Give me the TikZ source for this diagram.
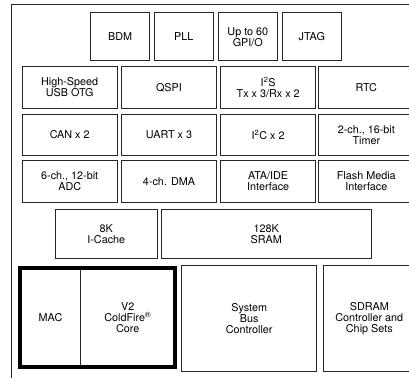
\documentclass[tikz,border=0pt]{standalone}
\usepackage{fontspec}
\setmainfont{TeX Gyre Heros}
\usetikzlibrary{positioning}

\begin{document}
\begin{tikzpicture}[x=1pt, y=-1pt, line join=miter,
  blk/.style={draw=boxcol, line width=0.9pt, rectangle, inner sep=0pt,
    align=center, font=\fontsize{10.8}{11}\selectfont},
  wide/.style={blk, minimum width=95.3pt}]
  \colorlet{boxcol}{black!85}
  \useasboundingbox (0,0) rectangle (409,377);
  \clip (0,0) rectangle (409,377);
  % chip outline, runs off the right and bottom
  \draw[boxcol, line width=0.9pt] (430,4) -- (11,4) -- (11,390);
  % debug / clock row
  \foreach \nm/\cx/\txt in {bdm/120.2/BDM, pll/183.8/PLL,
                            gpio/247.8/{Up to 60\\GPI/O}, jtag/311.8/JTAG}
    \node[blk, minimum width=59pt, minimum height=48pt] (\nm) at (\cx,36.7) {\txt};
  % peripherals
  \node[wide, minimum height=41.6pt] (usb) at (69.7,87.5) {High-Speed\\USB OTG};
  \node[wide, minimum height=41.6pt] (qspi) at (169,87.5) {QSPI};
  \node[wide, minimum height=41.6pt] (iis) at (268.2,87.5)
    {I\textsuperscript{2}S\\Tx x 3/Rx x 2};
  \node[wide, minimum height=41.6pt] (rtc) at (366.3,87.5) {RTC};
  \node[wide, minimum height=40.7pt] (can) at (69.7,134.7) {CAN x 2};
  \node[wide, minimum height=40.7pt] (uart) at (169,134.7) {UART x 3};
  \node[wide, minimum height=40.7pt] (iic) at (268.2,134.7) {I\textsuperscript{2}C x 2};
  \node[wide, minimum height=40.7pt] (timer) at (366.3,134.7) {2-ch., 16-bit\\Timer};
  \node[wide, minimum height=41.6pt] (adc) at (69.7,181.5) {6-ch., 12-bit\\ADC};
  \node[wide, minimum height=41.6pt] (dma) at (169,181.5) {4-ch. DMA};
  \node[wide, minimum height=41.6pt] (ata) at (268.2,181.5) {ATA/IDE\\Interface};
  \node[wide, minimum height=41.6pt] (flash) at (366.3,181.5) {Flash Media\\Interface};
  % memories
  \node[blk, minimum width=102.7pt, minimum height=49.3pt] (icache) at (106.3,233.7)
    {8K\\I-Cache};
  \node[blk, minimum width=209.3pt, minimum height=49.3pt] (sram) at (266.3,233.7)
    {128K\\SRAM};
  % core and buses
  \node[blk, minimum width=60.4pt, minimum height=97.6pt] (mac) at (50.5,317.5) {MAC};
  \node[blk, minimum width=94pt, minimum height=97.6pt] (core) at (127.7,317.5)
    {V2\\ColdFire\textsuperscript{®}\\Core};
  \draw[black, line width=4pt] (mac.north west) rectangle (core.south east);
  \node[blk, minimum width=135pt, minimum height=106pt] (sbc) at (249.2,318.7)
    {System\\Bus\\Controller};
  \node[blk, minimum width=92pt, minimum height=106pt] (sdram) at (369.3,318.7)
    {SDRAM\\Controller and\\Chip Sets};
\end{tikzpicture}
\end{document}
